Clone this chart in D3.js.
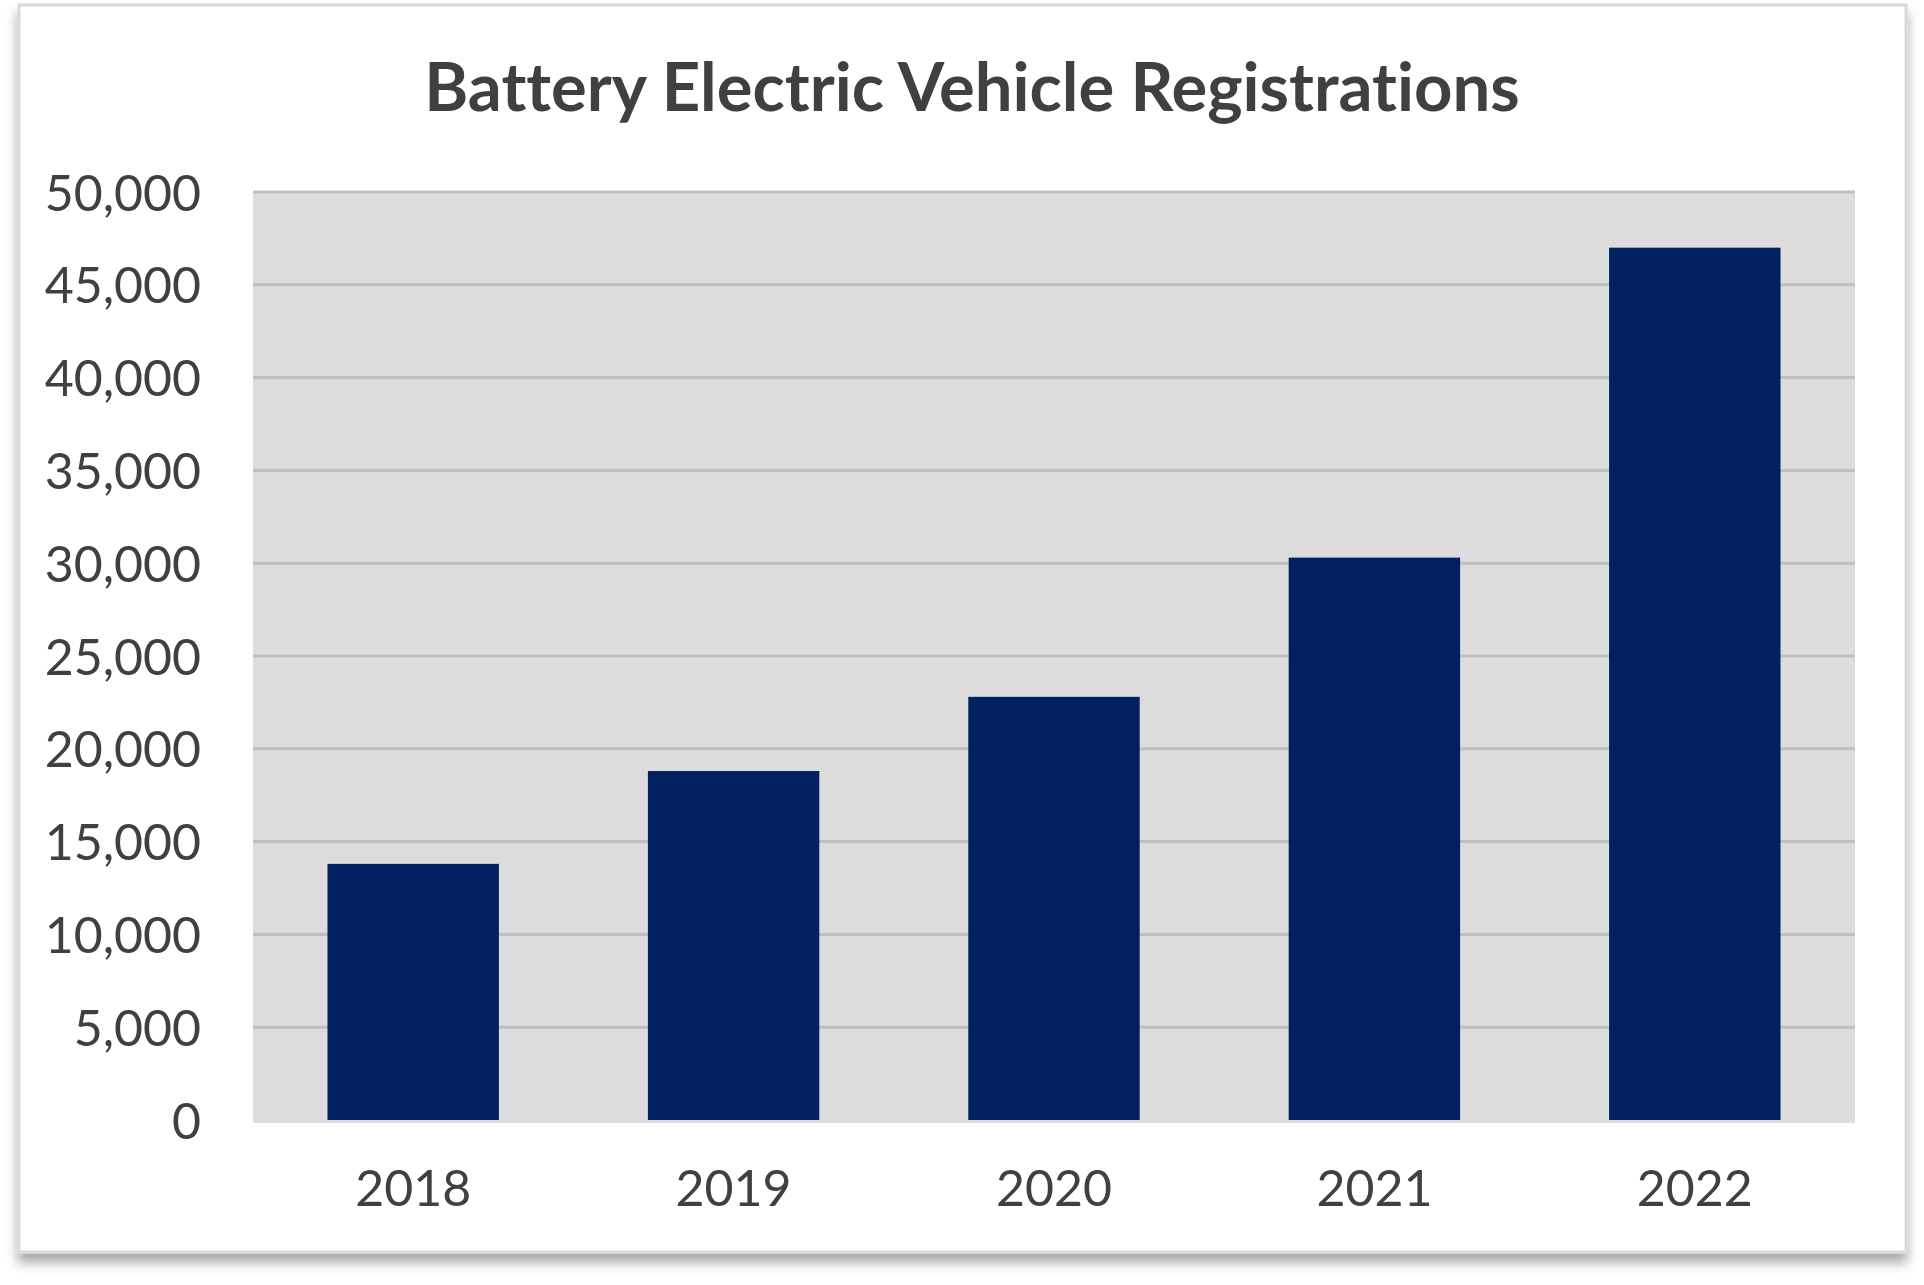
<!DOCTYPE html>
<html>
<head>
<meta charset="utf-8">
<script src="https://cdn.jsdelivr.net/npm/d3@7"></script>
<style>
    body { margin: 0; background: #ffffff; }
    svg text { font-family: Lato, "Open Sans", sans-serif; fill: #404040; font-variant-ligatures: none; }
</style>
</head>
<body>
<svg id="chart"></svg>
<script>
const years = ['2018', '2019', '2020', '2021', '2022'];
const registrations = [13800, 18800, 22800, 30300, 47000];
const yTicks = [0, 5000, 10000, 15000, 20000, 25000, 30000, 35000, 40000, 45000, 50000];
const chartTitle = 'Battery Electric Vehicle Registrations';

const width = 1924;
const height = 1285;
const plot = { left: 253, right: 1855, top: 192, bottom: 1120 };

const svg = d3.select('#chart')
    .attr('width', width)
    .attr('height', height);

// soft shadow under the chart box
const filter = svg.append('defs').append('filter')
    .attr('id', 'shadow')
    .attr('x', '-5%')
    .attr('y', '-5%')
    .attr('width', '110%')
    .attr('height', '115%');
filter.append('feDropShadow')
    .attr('dx', 0)
    .attr('dy', 9)
    .attr('stdDeviation', 6)
    .attr('flood-color', '#000')
    .attr('flood-opacity', 0.35);

svg.append('rect')
    .attr('x', 19)
    .attr('y', 5)
    .attr('width', 1887)
    .attr('height', 1247)
    .attr('fill', '#ffffff')
    .attr('stroke', '#d9d9d9')
    .attr('stroke-width', 3)
    .attr('filter', 'url(#shadow)');

const x = d3.scaleBand()
    .domain(years)
    .range([plot.left, plot.right])
    .paddingInner(0.465)
    .paddingOuter(0.2325);

const y = d3.scaleLinear()
    .domain([0, 50000])
    .range([plot.bottom, plot.top]);

// plot area background
svg.append('rect')
    .attr('x', plot.left)
    .attr('y', plot.top)
    .attr('width', plot.right - plot.left)
    .attr('height', plot.bottom - plot.top + 3)
    .attr('fill', '#dcdcdc');

// gridlines
svg.append('g')
    .selectAll('line')
    .data(yTicks.filter(d => d > 0))
    .enter().append('line')
    .attr('x1', plot.left)
    .attr('x2', plot.right)
    .attr('y1', d => y(d))
    .attr('y2', d => y(d))
    .attr('stroke', '#bfbfbf')
    .attr('stroke-width', 3);

// bars
svg.append('g')
    .selectAll('rect')
    .data(years)
    .enter().append('rect')
    .attr('x', d => x(d))
    .attr('y', (d, i) => y(registrations[i]))
    .attr('width', x.bandwidth())
    .attr('height', (d, i) => y(0) - y(registrations[i]))
    .attr('fill', '#00205f');

// y axis labels
const yAxis = d3.axisLeft(y)
    .tickValues(yTicks)
    .tickFormat(d3.format(','))
    .tickSize(0)
    .tickPadding(52);

svg.append('g')
    .attr('transform', `translate(${plot.left},0)`)
    .call(yAxis)
    .call(g => g.select('.domain').remove())
    .call(g => g.selectAll('text')
        .attr('font-size', 50)
        .attr('dy', '0.36em')
        .style('font-family', 'Lato, "Open Sans", sans-serif')
        .attr('fill', '#404040'));

// x axis labels
const xAxis = d3.axisBottom(x)
    .tickSize(0)
    .tickPadding(50);

svg.append('g')
    .attr('transform', `translate(0,${plot.bottom})`)
    .call(xAxis)
    .call(g => g.select('.domain').remove())
    .call(g => g.selectAll('text')
        .attr('font-size', 50)
        .attr('dy', '0.71em')
        .style('font-family', 'Lato, "Open Sans", sans-serif')
        .attr('fill', '#404040'));

// title
svg.append('text')
    .attr('x', 972)
    .attr('y', 111)
    .attr('text-anchor', 'middle')
    .attr('font-size', 67)
    .attr('font-weight', 'bold')
    .text(chartTitle);
</script>
</body>
</html>
